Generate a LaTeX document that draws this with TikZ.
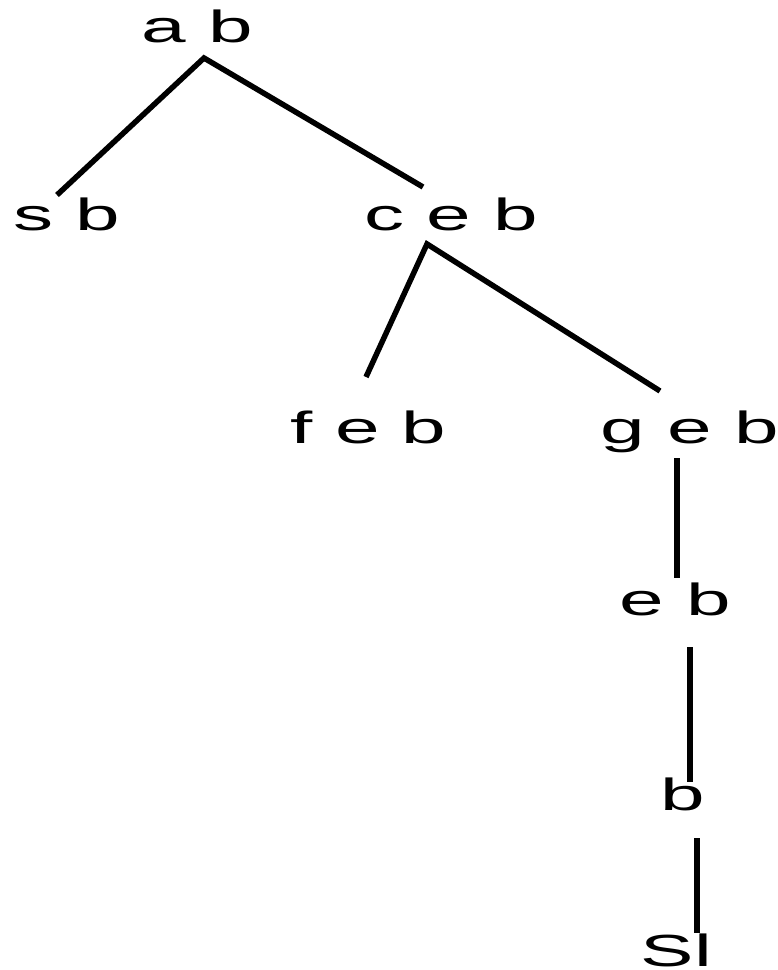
\documentclass[tikz,border=0pt]{standalone}
\usepackage{fontspec}
\usepackage{graphicx}
\setmainfont{Liberation Sans}
\newcommand{\widetxt}[1]{\scalebox{1.78}[1]{#1}}
\begin{document}
\begin{tikzpicture}[x=1pt,y=-1pt,
  lbl/.style={inner sep=0pt, outer sep=0pt, anchor=base, font=\fontsize{45}{54}\selectfont},
  edge/.style={line width=5.5pt, line cap=butt, line join=miter}]
\useasboundingbox (0,0) rectangle (778,970);
% labels
\node[lbl] (ab)  at (197.5,42)  {\widetxt{a b}};
\node[lbl] (sb)  at (66.5,230)  {\widetxt{s b}};
\node[lbl] (ceb) at (451,230)   {\widetxt{c e b}};
\node[lbl] (feb) at (368.5,443) {\widetxt{f e b}};
\node[lbl] (geb) at (690,443)   {\widetxt{g e b}};
\node[lbl] (eb)  at (675.5,615) {\widetxt{e b}};
\node[lbl] (b)   at (682.5,810) {\widetxt{b}};
\node[lbl, text depth=0pt] (sl)  at (676.5,966) {\widetxt{Sl}};
% connector ends
\coordinate (abD)  at (204,58);
\coordinate (sbU)  at (57,195);
\coordinate (cebU) at (423,187);
\coordinate (cebD) at (427,244);
\coordinate (febU) at (366,377);
\coordinate (gebU) at (660,391);
\coordinate (gebD) at (677,458);
\coordinate (ebU)  at (677,578);
\coordinate (ebD)  at (690,647);
\coordinate (bU)   at (690,782);
\coordinate (bD)   at (697,838);
\coordinate (slU)  at (697,933);
% connectors
\draw[edge] (sbU) -- (abD) -- (cebU);
\draw[edge] (febU) -- (cebD) -- (gebU);
\draw[edge] (gebD) -- (ebU);
\draw[edge] (ebD) -- (bU);
\draw[edge] (bD) -- (slU);
\end{tikzpicture}
\end{document}
